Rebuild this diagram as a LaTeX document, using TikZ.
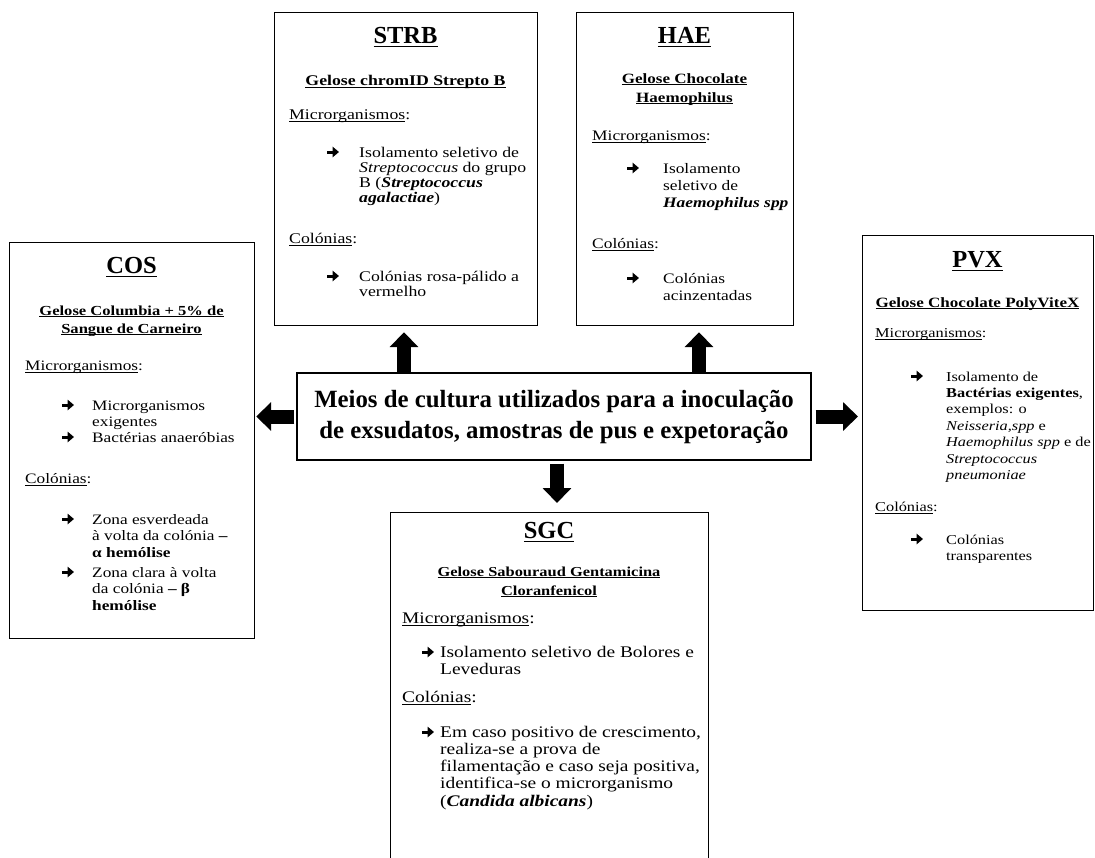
\documentclass[tikz,border=0pt]{standalone}
\usepackage{fontspec}
\setmainfont{Liberation Serif}[FakeStretch=1.2]
\newfontfamily\headfont{Liberation Serif}
\usetikzlibrary{arrows.meta}

% underline drawn as a rule under the text box: #1 thickness, #2 text
\newcommand\ulw[2]{\leavevmode\setbox0\hbox{#2}\rlap{\rule[-0.17em]{\wd0}{#1}}\box0}
\newcommand\ttlline[1]{\ulw{1.6pt}{#1}}
\newcommand\subline[1]{\ulw{1pt}{#1}}
\newcommand\lblline[1]{\ulw{0.8pt}{#1}}
% stacked lines whose reference point is the first baseline
\newcommand\lft[1]{\begin{tabular}[t]{@{}l@{}}#1\end{tabular}}
\newcommand\ctrstack[1]{\begin{tabular}[t]{@{}c@{}}#1\end{tabular}}

\tikzset{
  box/.style={draw, line width=1.2pt, inner sep=0pt, anchor=north west},
  ttl/.style={anchor=base, inner sep=0pt, font=\headfont\bfseries\fontsize{24.5}{28}\selectfont},
  sub/.style={anchor=base, inner sep=0pt, font=\bfseries\fontsize{14.2}{19}\selectfont},
  txt/.style={anchor=base west, inner sep=0pt},
  barrow/.style={line width=14pt, -{Triangle[width=28pt,length=15pt]}},
  % list bullet: small heavy arrow, origin at its left end on the text mid-height
  bularrow/.pic={\draw[line width=3pt, -{Triangle[width=10.5pt,length=6.5pt]}] (0,0) -- (12,0);},
}

\begin{document}
\begin{tikzpicture}[x=1pt, y=-1pt]
\useasboundingbox (0,0) rectangle (1095,857);
\clip (0,0) rectangle (1095,857);

% ---------- frames ----------
\node[box, minimum width=263pt, minimum height=313pt] (strb) at (274,12) {};
\node[box, minimum width=217pt, minimum height=313pt] (hae) at (576,12) {};
\node[box, minimum width=245pt, minimum height=396pt] (cos) at (9,242) {};
\node[box, minimum width=231pt, minimum height=375pt] (pvx) at (862,235) {};
\node[box, minimum width=318pt, minimum height=370pt] (sgc) at (390,512) {};

\node[draw, line width=1.2pt, minimum width=514pt, minimum height=87pt, align=center,
      font=\headfont\bfseries\fontsize{24.8}{31}\selectfont] (ctr) at (554,416.5)
  {Meios de cultura utilizados para a inoculação\\de exsudatos, amostras de pus e expetoração};

% ---------- block arrows ----------
\coordinate (ua) at (404,0);
\coordinate (ub) at (699,0);
\coordinate (uc) at (557,0);
\draw[barrow, shorten >=6pt] (ctr.north -| ua) -- (strb.south -| ua);
\draw[barrow, shorten >=6pt] (ctr.north -| ub) -- (hae.south -| ub);
\draw[barrow, shorten <=2pt, shorten >=1pt] (ctr.west) -- (cos.east |- ctr.west);
\draw[barrow, shorten <=4pt, shorten >=4pt] (ctr.east) -- (pvx.west |- ctr.east);
\draw[barrow, shorten <=3pt, shorten >=9pt] (ctr.south -| uc) -- (sgc.north -| uc);

% ---------- STRB ----------
\begin{scope}[font=\fontsize{14.8}{15}\selectfont]
\node[ttl] (strbT) at (405.5,43) {\ttlline{STRB}};
\node[sub, font=\bfseries\fontsize{14.8}{19}\selectfont] (strbS) at (405.5,85) {\subline{Gelose chromID Strepto B}};
\node[txt] (strbM) at (289,119) {\lblline{Microrganismos}:};
\pic (strbB1) at (327,152) {bularrow};
\node[txt] (strbI1) at (359,157) {\lft{Isolamento seletivo de\\\textit{Streptococcus} do grupo\\B (\textbf{\textit{Streptococcus}}\\\textbf{\textit{agalactiae}})}};
\node[txt] (strbC) at (289,243) {\lblline{Colónias}:};
\pic (strbB2) at (327,276) {bularrow};
\node[txt] (strbI2) at (359,281) {\lft{Colónias rosa-pálido a\\vermelho}};
\end{scope}

% ---------- HAE ----------
\begin{scope}[font=\fontsize{14.5}{17}\selectfont]
\node[ttl] (haeT) at (684.5,43) {\ttlline{HAE}};
\node[sub] (haeS) at (684.5,83) {\ctrstack{\subline{Gelose Chocolate}\\\subline{Haemophilus}}};
\node[txt] (haeM) at (592,140) {\lblline{Microrganismos}:};
\pic (haeB1) at (627,168) {bularrow};
\node[txt] (haeI1) at (663,173) {\lft{Isolamento\\seletivo de\\\textbf{\textit{Haemophilus spp}}}};
\node[txt] (haeC) at (592,248) {\lblline{Colónias}:};
\pic (haeB2) at (627,278) {bularrow};
\node[txt] (haeI2) at (663,283) {\lft{Colónias\\acinzentadas}};
\end{scope}

% ---------- COS ----------
\begin{scope}[font=\fontsize{14.4}{16.5}\selectfont]
\node[ttl] (cosT) at (131.5,273) {\ttlline{COS}};
\node[sub, font=\bfseries\fontsize{13.8}{18}\selectfont] (cosS) at (131.5,315) {\ctrstack{\subline{Gelose Columbia + 5\% de}\\\subline{Sangue de Carneiro}}};
\node[txt] (cosM) at (25,370) {\lblline{Microrganismos}:};
\pic (cosB1) at (62,405) {bularrow};
\node[txt] (cosI1) at (92,410) {\lft{Microrganismos\\exigentes}};
\pic (cosB2) at (62,437) {bularrow};
\node[txt] (cosI2) at (92,442) {Bactérias anaeróbias};
\node[txt] (cosC) at (25,483) {\lblline{Colónias}:};
\pic (cosB3) at (62,519) {bularrow};
\node[txt] (cosI3) at (92,524) {\lft{Zona esverdeada\\à volta da colónia \textbf{–}\\\textbf{α hemólise}}};
\pic (cosB4) at (62,572) {bularrow};
\node[txt] (cosI4) at (92,577) {\lft{Zona clara à volta\\da colónia \textbf{– β}\\\textbf{hemólise}}};
\end{scope}

% ---------- PVX ----------
\begin{scope}[font=\fontsize{13.6}{16.4}\selectfont]
\node[ttl] (pvxT) at (977.5,267) {\ttlline{PVX}};
\node[sub] (pvxS) at (977.5,307) {\subline{Gelose Chocolate PolyViteX}};
\node[txt] (pvxM) at (875,337) {\lblline{Microrganismos}:};
\pic (pvxB1) at (911,376) {bularrow};
\node[txt] (pvxI1) at (946,381) {\lft{Isolamento de\\\textbf{Bactérias exigentes},\\exemplos: o\\\textit{Neisseria,spp} e\\\textit{Haemophilus spp} e de\\\textit{Streptococcus}\\\textit{pneumoniae}}};
\node[txt] (pvxC) at (875,511) {\lblline{Colónias}:};
\pic (pvxB2) at (911,539) {bularrow};
\node[txt] (pvxI2) at (946,544) {\lft{Colónias\\transparentes}};
\end{scope}

% ---------- SGC ----------
\begin{scope}[font=\fontsize{16.2}{17.3}\selectfont]
\node[ttl] (sgcT) at (549,538) {\ttlline{SGC}};
\node[sub, font=\bfseries\fontsize{13.7}{19}\selectfont] (sgcS) at (549,576) {\ctrstack{\subline{Gelose Sabouraud Gentamicina}\\\subline{Cloranfenicol}}};
\node[txt] (sgcM) at (402,623) {\lblline{Microrganismos}:};
\pic (sgcB1) at (422,652) {bularrow};
\node[txt] (sgcI1) at (440,657) {\lft{Isolamento seletivo de Bolores e\\Leveduras}};
\node[txt] (sgcC) at (402,702) {\lblline{Colónias}:};
\pic (sgcB2) at (422,732) {bularrow};
\node[txt] (sgcI2) at (440,737) {\lft{Em caso positivo de crescimento,\\realiza-se a prova de\\filamentação e caso seja positiva,\\identifica-se o microrganismo\\(\textbf{\textit{Candida albicans}})}};
\end{scope}
\end{tikzpicture}
\end{document}
